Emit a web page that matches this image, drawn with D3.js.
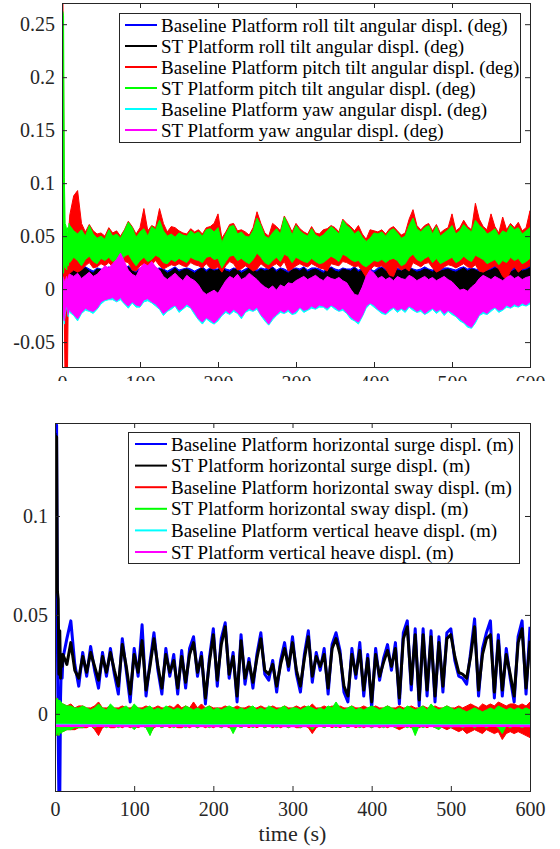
<!DOCTYPE html>
<html>
<head>
<meta charset="utf-8">
<script src="https://cdnjs.cloudflare.com/ajax/libs/d3/7.8.5/d3.min.js"></script>
<style>
  body { margin: 0; background: #fff; }
</style>
</head>
<body>
<div id="chart"></div>
<script>
// sample times (s): 1 s steps in the start-up transient, 5 s after that
var TIME = d3.range(0, 10, 1).concat(d3.range(10, 601, 5));
var HEAVE_TIME = [0, 50, 100, 150, 200, 250, 300, 350, 400, 450, 500, 550, 600];

var X_TICKS = [0, 100, 200, 300, 400, 500, 600];
var TOP_Y_TICKS = [-0.05, 0, 0.05, 0.1, 0.15, 0.2, 0.25];
var BOTTOM_Y_TICKS = [0, 0.05, 0.1];

var TOP_LABELS = [
  "Baseline Platform roll tilt angular displ. (deg)",
  "ST Platform roll tilt angular displ. (deg)",
  "Baseline Platform pitch tilt angular displ. (deg)",
  "ST Platform pitch tilt angular displ. (deg)",
  "Baseline Platform yaw angular displ. (deg)",
  "ST Platform yaw angular displ. (deg)"
];
var BOTTOM_LABELS = [
  "Baseline Platform horizontal surge displ. (m)",
  "ST Platform horizontal surge displ. (m)",
  "Baseline Platform horizontal sway displ. (m)",
  "ST Platform horizontal sway displ. (m)",
  "Baseline Platform vertical heave displ. (m)",
  "ST Platform vertical heave displ. (m)"
];
var COLORS = ["#0000ff", "#000000", "#ff0000", "#00ff00", "#00ffff", "#ff00ff"];

// all series values are in units of 1e-3, upper (hi) and lower (lo) edge of the trace
var SCALE = 1e-3;

var rollBase_hi = [3,14,17,20,16,18,20,17,19,18,
  19,20,18,20,21,19,17,20,19,18, 21,19,20,18,19,22,19,17,20,19,
  18,21,19,20,19,17,19,21,18,19, 20,19,17,19,21,18,20,19,19,22,
  19,18,20,19,17,19,21,19,18,20, 19,20,21,18,20,19,17,19,20,19,
  21,18,20,20,19,17,19,21,19,18, 20,19,19,21,18,19,20,19,17,20,
  21,19,20,18,20,19,21,21,19,18, 19,21,19,18,21,19,20,20,19,18,
  20,21,19,20,19,18,20,19,20,22, 21,20,19,21,22,23,21,23,24];
var rollBase_lo = [-3,-6,-9,-7,-5,-6,-4,-7,-5,-6,
  -6,-7,-5,-8,-6,-7,-5,-6,-8,-7, -5,-6,-7,-5,-6,-8,-6,-5,-7,-6,
  -7,-5,-6,-8,-6,-5,-7,-6,-5,-7, -6,-5,-7,-8,-9,-7,-8,-6,-7,-5,
  -6,-7,-5,-6,-8,-6,-5,-7,-6,-5, -7,-6,-5,-7,-4,-6,-5,-7,-6,-5,
  -6,-7,-5,-6,-7,-5,-6,-7,-5,-6, -7,-5,-8,-10,-9,-7,-6,-5,-7,-6,
  -5,-7,-6,-5,-7,-6,-5,-7,-6,-5, -6,-7,-5,-6,-7,-5,-6,-7,-5,-6,
  -7,-5,-6,-4,-5,-6,-7,-5,-6,-7, -5,-6,-7,-5,-6,-7,-5,-6,-7];

var rollST_hi = [2,12,15,18,14,16,18,15,17,16,
  17,19,16,18,20,17,15,19,18,16, 20,17,19,16,18,21,17,15,19,18,
  16,20,17,19,18,15,17,20,16,18, 19,17,15,18,20,16,19,17,18,21,
  17,16,19,18,15,17,20,18,16,19, 17,18,20,16,19,17,15,18,19,17,
  20,16,18,19,17,15,18,20,17,16, 19,18,17,20,16,18,19,17,15,18,
  20,17,19,16,18,17,19,20,18,16, 17,19,18,16,20,17,18,19,17,16,
  18,20,17,19,18,16,19,17,18,20, 19,18,17,16,18,19,17,18,20];
var rollST_lo = [-2,-5,-8,-6,-4,-5,-3,-6,-4,-5,
  -4,-5,-3,-6,-4,-5,-3,-4,-6,-5, -3,-4,-5,-3,-4,-6,-4,-3,-5,-4,
  -5,-3,-4,-6,-4,-3,-5,-4,-3,-5, -4,-3,-5,-6,-7,-5,-6,-4,-5,-3,
  -4,-5,-3,-4,-6,-4,-3,-5,-4,-3, -5,-4,-3,-5,-2,-4,-3,-5,-4,-3,
  -4,-5,-3,-4,-5,-3,-4,-5,-3,-4, -5,-3,-6,-8,-7,-5,-4,-3,-5,-4,
  -3,-5,-4,-3,-5,-4,-3,-5,-4,-3, -4,-5,-3,-4,-5,-3,-4,-5,-3,-4,
  -5,-3,-4,-2,-3,-4,-5,-3,-4,-5, -3,-4,-5,-3,-4,-5,-3,-4,-5];

var pitchBase_hi = [290,290,200,40,20,15,25,30,45,60,
  70,88,93,62,54,61,55,52,53,50, 58,53,55,50,56,64,59,52,58,76,
  55,60,58,76,62,54,59,58,55,53, 52,57,54,56,52,58,59,62,71,48,
  54,61,62,55,56,54,51,58,73,62, 53,50,62,59,55,69,62,54,62,57,
  54,52,59,53,52,56,57,60,58,54, 66,62,59,55,60,52,47,56,55,54,
  56,52,57,59,55,51,53,66,75,60, 56,60,62,55,61,53,56,58,71,55,
  58,65,59,56,81,66,59,56,71,59, 53,68,56,62,58,63,55,58,74];
var pitchBase_lo = [0,60,10,-30,-90,-90,-90,-80,-10,15,
  15,18,16,18,22,25,20,21,24,22, 25,21,24,20,26,25,18,17,22,24,
  21,23,27,22,19,21,23,22,24,22, 21,25,23,22,20,24,20,19,21,16,
  22,26,24,18,19,22,20,17,19,24, 21,19,22,24,21,26,17,19,22,24,
  22,21,24,22,20,19,17,24,23,22, 26,25,23,21,22,17,11,18,22,21,
  22,19,13,12,21,18,20,17,25,23, 21,24,25,20,16,18,21,23,22,20,
  22,24,21,20,23,17,16,18,20,22, 19,12,9,17,21,16,19,20,22];

var pitchST_hi = [250,262,258,105,62,60,55,58,50,62,
  60,55,52,56,50,60,52,48,50,47, 56,50,52,48,55,63,58,49,54,57,
  50,59,56,65,55,50,52,49,53,51, 50,55,52,54,50,56,57,54,58,44,
  52,59,60,52,54,50,49,55,67,60, 50,48,53,57,52,68,60,51,60,55,
  52,50,57,51,49,51,55,59,56,52, 65,60,57,52,55,49,45,48,53,52,
  54,50,55,57,53,48,50,60,67,57, 54,58,60,52,59,50,53,56,60,52,
  55,61,57,54,65,60,57,52,54,57, 50,55,53,60,56,58,52,55,58];
var pitchST_lo = [0,20,15,25,20,22,18,25,22,28,
  25,30,27,22,28,31,26,24,29,27, 30,26,28,25,31,33,27,22,27,30,
  26,28,32,30,25,24,28,26,29,27, 25,30,28,27,25,30,31,28,29,20,
  26,31,32,27,29,26,24,28,34,30, 25,23,27,30,26,33,31,25,30,28,
  26,25,29,26,24,25,28,31,29,26, 33,31,28,26,27,23,21,24,27,26,
  28,25,28,29,27,22,24,30,33,28, 26,29,31,25,29,24,26,28,30,25,
  27,31,28,26,32,30,28,24,26,28, 23,27,25,30,27,29,24,26,29];

var yawBase_hi = [4,10,8,6,3,8,10,6,8,12,
  12,11,13,9,12,14,10,13,16,20, 18,22,25,31,24,16,13,10,18,22,
  20,24,19,16,11,8,10,13,10,7, 11,9,6,3,-3,-6,-4,-2,-5,1,
  7,10,9,12,8,10,13,11,8,4, 1,-1,2,-2,3,1,5,4,7,9,
  11,8,10,12,9,7,11,9,8,10, 7,5,-1,-6,-7,1,10,16,13,9,
  11,8,10,7,11,9,8,12,10,7, 9,11,8,10,7,9,11,8,6,2,
  -2,-1,-3,1,4,9,12,10,8,11, 9,7,10,12,9,11,8,10,11];
var yawBase_lo = [-6,-17,-27,-33,-24,-20,-16,-22,-26,-20,
  -22,-25,-30,-23,-20,-21,-23,-19,-14,-11, -10,-10,-12,-10,-14,-18,-13,-17,-17,-12,
  -11,-13,-16,-19,-25,-21,-19,-16,-22,-19, -16,-18,-24,-29,-33,-28,-31,-33,-30,-25,
  -22,-24,-21,-23,-28,-22,-20,-21,-19,-25, -30,-34,-29,-25,-22,-23,-21,-24,-23,-18,
  -22,-20,-18,-19,-17,-17,-20,-16,-19,-21, -20,-23,-28,-30,-33,-26,-18,-14,-17,-20,
  -23,-24,-21,-18,-22,-19,-22,-17,-20,-22, -21,-24,-22,-19,-23,-20,-25,-21,-24,-26,
  -30,-32,-36,-37,-32,-25,-23,-24,-21,-18, -22,-20,-17,-18,-16,-17,-15,-16,-14];

var yawST_hi = [5,12,10,8,5,10,12,8,10,14,
  14,12,15,10,13,16,12,14,18,22, 20,24,28,34,26,18,14,12,20,24,
  22,26,21,18,12,9,12,15,11,8, 13,10,8,4,-2,-5,-3,-1,-4,2,
  8,12,10,14,9,11,15,12,9,5, 2,0,3,-1,4,2,6,5,8,10,
  12,9,11,13,10,8,12,10,9,11, 8,6,0,-5,-6,2,12,18,15,10,
  12,9,11,8,12,10,9,13,11,8, 10,12,9,11,8,10,12,9,7,3,
  -1,0,-2,2,5,10,13,11,9,12, 10,8,11,13,10,12,9,11,12];
var yawST_lo = [-5,-15,-25,-30,-22,-18,-15,-20,-24,-18,
  -20,-24,-28,-22,-18,-20,-21,-18,-12,-10, -9,-8,-11,-8,-13,-16,-12,-15,-16,-10,
  -9,-12,-14,-18,-23,-20,-17,-15,-20,-18, -14,-17,-22,-28,-31,-27,-29,-32,-28,-24,
  -20,-23,-19,-22,-26,-21,-18,-20,-17,-24, -28,-33,-27,-24,-20,-22,-19,-23,-21,-17,
  -20,-19,-16,-18,-15,-16,-18,-15,-17,-20, -18,-22,-26,-29,-31,-25,-16,-13,-15,-19,
  -21,-23,-19,-17,-20,-18,-20,-16,-18,-21, -19,-23,-20,-18,-21,-19,-23,-20,-22,-25,
  -28,-31,-34,-36,-30,-24,-21,-23,-19,-17, -20,-19,-15,-17,-14,-16,-13,-15,-12];

// surge traces are read as a single line
var surgeBase = [147,120,146,40,-10,-45,-45,8,25,18,
  28,38,47,25,14,31,19,34,22,13, 31,19,33,20,10,38,22,6,33,19,
  45,9,26,41,22,10,33,19,30,10, 32,13,33,39,19,31,5,28,43,14,
  38,46,18,31,6,40,15,28,13,30, 41,20,17,27,11,27,36,22,39,20,
  11,30,42,16,31,22,33,10,35,41, 32,11,6,33,18,36,9,30,3,33,
  17,28,35,22,36,5,41,47,12,43, 4,43,9,42,6,39,11,41,43,27,
  19,18,15,31,48,9,33,41,47,8, 40,9,33,18,6,39,47,10,44];
var surgeST = [142,105,140,62,58,20,42,18,30,24,
  30,25,36,22,18,29,21,31,24,17, 29,21,31,22,14,35,24,10,30,21,
  37,12,24,38,24,13,30,21,27,13, 29,16,30,36,21,29,8,26,40,17,
  35,44,20,29,9,37,18,26,16,28, 38,22,20,25,14,25,33,24,36,22,
  14,28,39,19,29,24,30,13,33,38, 30,14,9,30,20,32,12,28,6,30,
  19,26,32,24,33,8,38,44,15,40, 7,40,12,39,9,36,14,38,40,29,
  21,20,18,29,44,12,30,38,40,11, 37,12,30,20,9,36,43,13,37];

var swayBase_hi = [7,8,8,7,7,6,6,6,5,5,
  5,4,5,3,4,4,3,3,4,6, 3,3,4,3,3,4,3,3,4,3,
  3,4,3,3,4,3,3,4,3,5, 3,4,3,6,3,5,3,4,3,3,
  3,4,3,3,4,3,3,4,3,3, 4,3,3,4,3,3,4,3,3,4,
  3,4,3,5,3,3,4,3,4,3, 4,3,3,4,3,3,4,3,3,4,
  3,3,4,3,3,4,3,3,4,3, 3,4,3,3,4,3,3,4,3,3,
  4,3,4,5,4,3,5,4,5,4, 6,5,4,5,5,4,5,4,6];
var swayBase_lo = [-9,-11,-10,-10,-11,-10,-10,-9,-9,-9,
  -9,-8,-8,-8,-7,-7,-7,-6,-8,-11, -7,-6,-7,-7,-6,-7,-6,-7,-6,-7,
  -6,-7,-10,-7,-6,-7,-6,-7,-6,-7, -7,-6,-7,-6,-7,-6,-7,-6,-7,-6,
  -7,-6,-7,-7,-6,-7,-6,-7,-6,-7, -6,-7,-6,-7,-6,-7,-6,-7,-6,-7,
  -7,-6,-7,-10,-7,-6,-7,-6,-7,-6, -7,-6,-7,-6,-7,-6,-7,-6,-7,-6,
  -7,-6,-7,-6,-7,-8,-7,-6,-7,-6, -7,-6,-7,-6,-7,-6,-7,-8,-7,-8,
  -9,-8,-10,-9,-8,-9,-10,-8,-9,-10, -9,-13,-10,-9,-10,-9,-10,-11,-12];

var swayST_hi = [8,8,7,8,7,6,7,6,6,5,
  5,4,4,3,3,4,3,2,3,5, 3,2,5,3,2,3,4,2,5,3,
  2,3,4,2,3,2,4,3,2,3, 2,4,3,2,3,2,3,4,2,3,
  2,3,4,3,2,3,2,3,4,2, 3,2,4,3,2,3,4,2,3,3,
  2,3,4,3,2,3,2,4,3,6, 3,2,3,4,2,3,2,3,4,3,
  2,3,4,3,2,3,2,4,3,2, 3,4,2,5,3,2,3,4,3,2,
  3,2,1,2,3,2,1,2,3,2, 4,3,2,3,2,3,2,3,2];
var swayST_lo = [-10,-11,-11,-10,-10,-11,-10,-9,-10,-9,
  -9,-8,-8,-7,-7,-7,-6,-6,-7,-6, -6,-7,-6,-6,-7,-6,-6,-6,-8,-6,
  -6,-7,-11,-6,-6,-7,-6,-6,-7,-6, -6,-7,-6,-6,-7,-6,-6,-7,-6,-6,
  -7,-6,-6,-10,-6,-7,-6,-6,-7,-6, -6,-7,-6,-6,-7,-6,-6,-7,-6,-6,
  -7,-6,-6,-8,-6,-6,-7,-6,-6,-7, -6,-6,-7,-6,-6,-7,-6,-6,-7,-6,
  -6,-7,-6,-6,-7,-6,-6,-7,-6,-11, -6,-7,-6,-6,-7,-8,-6,-6,-7,-6,
  -6,-7,-6,-6,-7,-6,-6,-7,-6,-6, -7,-10,-6,-7,-6,-6,-7,-6,-6];

var heaveBase = [-5.7,-5.8,-5.9,-5.8,-5.9,-5.8,-5.9,-5.8,-5.9,-5.8,-5.9,-5.8,-5.9];
var heaveST = [-6.0,-6.0,-6.1,-6.0,-6.1,-6.0,-6.1,-6.0,-6.1,-6.0,-6.1,-6.0,-6.1];

var AXIS_COLOR = "#262626";
var FONT = "'Liberation Serif', 'Times New Roman', 'DejaVu Serif', serif";
var W = 560, H = 849;

var topPanel = {
  id: "angular", left: 62, right: 530, top: 3, bottom: 367, clipBottom: 381,
  yDomain: [-0.0735, 0.27], yTicks: TOP_Y_TICKS, xPad: 9,
  legend: {x: 119, y: 13, w: 401, h: 129, row0: 25, step: 21, lineX: [125, 157], textX: 161},
  series: [
    {label: TOP_LABELS[0], color: COLORS[0], time: TIME, hi: rollBase_hi, lo: rollBase_lo},
    {label: TOP_LABELS[1], color: COLORS[1], time: TIME, hi: rollST_hi, lo: rollST_lo},
    {label: TOP_LABELS[2], color: COLORS[2], time: TIME, hi: pitchBase_hi, lo: pitchBase_lo},
    {label: TOP_LABELS[3], color: COLORS[3], time: TIME, hi: pitchST_hi, lo: pitchST_lo},
    {label: TOP_LABELS[4], color: COLORS[4], time: TIME, hi: yawBase_hi, lo: yawBase_lo},
    {label: TOP_LABELS[5], color: COLORS[5], time: TIME, hi: yawST_hi, lo: yawST_lo}
  ]
};

var bottomPanel = {
  id: "linear", left: 55, right: 530, top: 423, bottom: 791,
  yDomain: [-0.039, 0.147], yTicks: BOTTOM_Y_TICKS, xPad: 11, xLabel: "time (s)",
  legend: {x: 128, y: 432, w: 391, h: 131, row0: 444, step: 21.6, lineX: [135, 167], textX: 171},
  series: [
    {label: BOTTOM_LABELS[0], color: COLORS[0], time: TIME, values: surgeBase, width: 3},
    {label: BOTTOM_LABELS[1], color: COLORS[1], time: TIME, values: surgeST, width: 3},
    {label: BOTTOM_LABELS[2], color: COLORS[2], time: TIME, hi: swayBase_hi, lo: swayBase_lo},
    {label: BOTTOM_LABELS[3], color: COLORS[3], time: TIME, hi: swayST_hi, lo: swayST_lo},
    {label: BOTTOM_LABELS[4], color: COLORS[4], time: HEAVE_TIME, values: heaveBase, width: 2.5},
    {label: BOTTOM_LABELS[5], color: COLORS[5], time: HEAVE_TIME, values: heaveST, width: 2.5}
  ]
};

var svg = d3.select("#chart").append("svg")
  .attr("width", W)
  .attr("height", H)
  .attr("font-family", FONT);

drawPanel(topPanel);
drawPanel(bottomPanel);

function drawPanel(p) {
  var x = d3.scaleLinear().domain([0, 600]).range([p.left, p.right]);
  var y = d3.scaleLinear().domain(p.yDomain).range([p.bottom, p.top]);

  var g = svg.append("g").attr("id", p.id);

  // the upper figure is cut just below its axis, hiding most of its tick labels
  if (p.clipBottom) {
    svg.append("clipPath").attr("id", p.id + "-cut")
      .append("rect").attr("x", 0).attr("y", 0).attr("width", W).attr("height", p.clipBottom);
    g.attr("clip-path", "url(#" + p.id + "-cut)");
  }

  svg.append("clipPath").attr("id", p.id + "-plot")
    .append("rect")
    .attr("x", p.left).attr("y", p.top)
    .attr("width", p.right - p.left).attr("height", p.bottom - p.top);

  var plot = g.append("g").attr("clip-path", "url(#" + p.id + "-plot)");

  p.series.forEach(function(s) {
    if (s.hi) {
      var rows = s.time.map(function(t, i) { return {t: t, hi: s.hi[i] * SCALE, lo: s.lo[i] * SCALE}; });
      var area = d3.area()
        .x(function(d) { return x(d.t); })
        .y0(function(d) { return y(d.lo); })
        .y1(function(d) { return y(d.hi); });
      plot.append("path")
        .datum(rows)
        .attr("d", area)
        .attr("fill", s.color)
        .attr("stroke", s.color)
        .attr("stroke-width", 1)
        .attr("stroke-linejoin", "round");
    } else {
      var pts = s.time.map(function(t, i) { return {t: t, v: s.values[i] * SCALE}; });
      var line = d3.line()
        .x(function(d) { return x(d.t); })
        .y(function(d) { return y(d.v); });
      plot.append("path")
        .datum(pts)
        .attr("d", line)
        .attr("fill", "none")
        .attr("stroke", s.color)
        .attr("stroke-width", s.width)
        .attr("stroke-linejoin", "round");
    }
  });

  // axes, ticks pointing inwards on all four sides
  var axes = [
    g.append("g").attr("transform", "translate(0," + p.bottom + ")")
      .call(d3.axisBottom(x).tickValues(X_TICKS).tickSize(-5).tickPadding(p.xPad).tickFormat(String)),
    g.append("g").attr("transform", "translate(0," + p.top + ")")
      .call(d3.axisTop(x).tickValues(X_TICKS).tickSize(-5).tickFormat("")),
    g.append("g").attr("transform", "translate(" + p.left + ",0)")
      .call(d3.axisLeft(y).tickValues(p.yTicks).tickSize(-5).tickPadding(7).tickFormat(String)),
    g.append("g").attr("transform", "translate(" + p.right + ",0)")
      .call(d3.axisRight(y).tickValues(p.yTicks).tickSize(-5).tickFormat(""))
  ];
  axes.forEach(function(a) {
    a.attr("font-family", FONT).attr("font-size", 20).attr("color", AXIS_COLOR);
    a.select(".domain").remove();
  });

  g.append("rect")
    .attr("x", p.left + 0.5).attr("y", p.top + 0.5)
    .attr("width", p.right - p.left).attr("height", p.bottom - p.top)
    .attr("fill", "none")
    .attr("stroke", AXIS_COLOR)
    .attr("stroke-width", 1);

  if (p.xLabel) {
    g.append("text")
      .attr("x", (p.left + p.right) / 2)
      .attr("y", 841)
      .attr("text-anchor", "middle")
      .attr("font-family", FONT)
      .attr("font-size", 22)
      .attr("fill", AXIS_COLOR)
      .text(p.xLabel);
  }

  drawLegend(g, p.legend, p.series);
}

function drawLegend(g, L, series) {
  var legend = g.append("g").attr("class", "legend");

  legend.append("rect")
    .attr("x", L.x + 0.5).attr("y", L.y + 0.5)
    .attr("width", L.w).attr("height", L.h)
    .attr("fill", "#fff")
    .attr("stroke", AXIS_COLOR)
    .attr("stroke-width", 1);

  var rows = legend.selectAll(".entry")
    .data(series)
    .enter().append("g")
    .attr("class", "entry")
    .attr("transform", function(d, i) { return "translate(0," + (L.row0 + i * L.step) + ")"; });

  rows.append("line")
    .attr("x1", L.lineX[0]).attr("x2", L.lineX[1])
    .attr("stroke", function(d) { return d.color; })
    .attr("stroke-width", 2);

  rows.append("text")
    .attr("x", L.textX)
    .attr("dy", "0.35em")
    .attr("font-family", FONT)
    .attr("font-size", 19)
    .attr("fill", "#000")
    .text(function(d) { return d.label; });
}
</script>
</body>
</html>
